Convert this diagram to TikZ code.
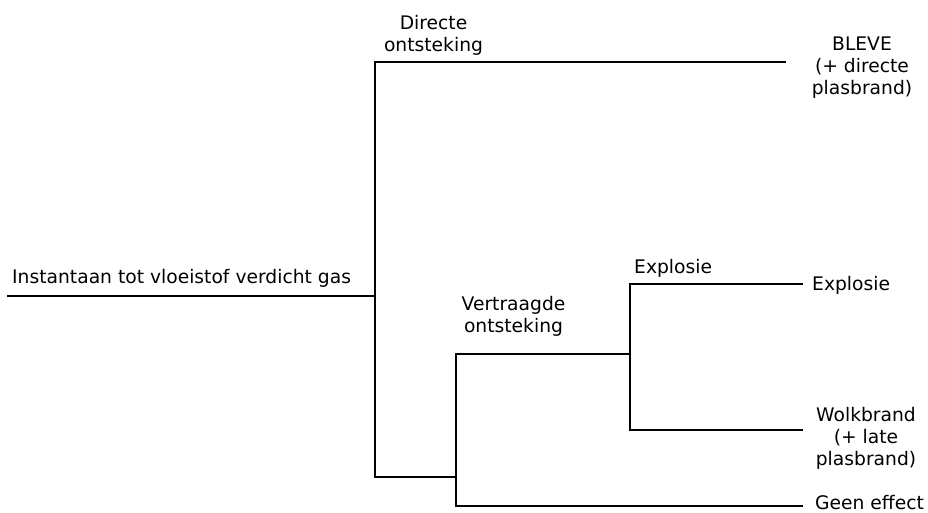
\documentclass[tikz,border=0pt]{standalone}
\usepackage{fontspec}
\setmainfont{DejaVu Sans}

\tikzset{
  tak/.style={line width=2pt, line cap=rect},
  lbl/.style={align=center, inner sep=0pt, font=\fontsize{18.7}{22}\selectfont},
}

\begin{document}
\begin{tikzpicture}[x=1pt, y=-1pt]
        \useasboundingbox (0,0) rectangle (928,513);

        % Branch points of the tree
        \coordinate (start) at (8,296);
        \coordinate (splits) at (375,296);
        \coordinate (direct) at (375,62.5);
        \coordinate (laat) at (375,476.5);
        \coordinate (vertraagd) at (456,354);
        \coordinate (laatknik) at (456,476.5);
        \coordinate (geenknik) at (456,505.5);
        \coordinate (explknik) at (630,354);
        \coordinate (explboven) at (630,284);
        \coordinate (wolkknik) at (630,430);

        % Outcomes
        \node[lbl] (bleve) at (862,67.5) {BLEVE\\(+ directe\\plasbrand)};
        \node[lbl, anchor=base west] (explosie) at (812,290) {Explosie};
        \node[lbl] (wolk) at (866,438) {Wolkbrand\\(+ late\\plasbrand)};
        \node[lbl, anchor=base west] (geen) at (815,509.5) {Geen effect};

        \coordinate (bleveeind) at (785,62.5);
        \coordinate (expleind) at (802,284);
        \coordinate (wolkeind) at (802,430);
        \coordinate (geeneind) at (802,505.5);

        % Event labels
        \node[lbl, anchor=base west] (bron) at (12,283) {Instantaan tot vloeistof verdicht gas};
        \node[lbl] (directlbl) at (433.5,35.5) {Directe\\ontsteking};
        \node[lbl] (vertraagdlbl) at (513.5,316) {Vertraagde\\ontsteking};
        \node[lbl, anchor=base west] (expllbl) at (634,273) {Explosie};

        % Tree
        \draw[tak] (start) -- (splits);
        \draw[tak] (bleveeind) -- (direct) -- (laat) -- (laatknik);
        \draw[tak] (vertraagd) -- (geenknik) -- (geeneind);
        \draw[tak] (vertraagd) -- (explknik);
        \draw[tak] (expleind) -- (explboven) -- (wolkknik) -- (wolkeind);

\end{tikzpicture}
\end{document}
